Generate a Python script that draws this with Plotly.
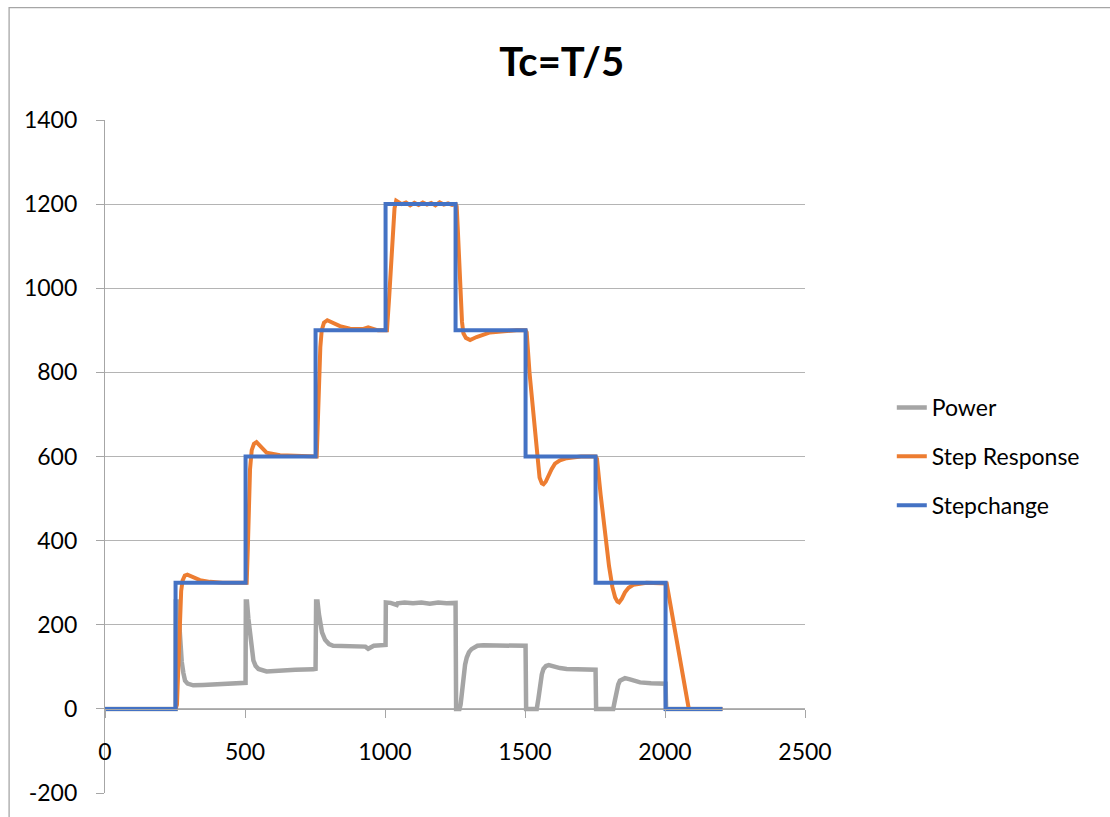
import plotly.graph_objects as go

# ---- data ----
step_x = [0, 252, 502, 752, 1002, 1252, 1502, 1752, 2002, 2205]
step_y = [0, 300, 600, 900, 1200, 900, 600, 300, 0, 0]

resp_x = [0, 252, 257, 262, 267, 272, 277, 285, 294, 310, 339, 375, 420, 502,
          506, 510, 514, 518, 524, 532, 541, 555, 577, 625, 684, 752,
          756, 760, 764, 769, 774, 782, 794, 815, 839, 875, 920, 940, 955, 975, 1002,
          1007, 1015, 1022, 1029, 1034, 1040, 1048, 1060, 1075, 1090, 1105, 1120, 1135,
          1150, 1165, 1180, 1195, 1210, 1225, 1240, 1252,
          1256, 1260, 1265, 1270, 1275, 1280, 1289, 1304, 1327, 1375, 1434, 1470, 1502,
          1506, 1516, 1530, 1542, 1552, 1560, 1566, 1574, 1583, 1595, 1607, 1625, 1649, 1700, 1752,
          1757, 1770, 1785, 1800, 1812, 1822, 1830, 1836, 1846, 1857, 1870, 1887, 1934, 2002,
          2006, 2085, 2205]
resp_y = [0, 0, 10, 110, 218, 280, 305, 317, 319, 314, 306, 302, 300, 300,
          300, 380, 480, 570, 615, 630, 634, 625, 609, 603, 601, 600,
          600, 680, 780, 860, 900, 918, 924, 917, 910, 904, 903, 907, 903, 900, 900,
          900, 980, 1060, 1140, 1190, 1208, 1205, 1200, 1204, 1197, 1203, 1198, 1204,
          1199, 1203, 1197, 1204, 1199, 1202, 1198, 1200,
          1195, 1140, 1060, 980, 920, 893, 882, 877, 884, 895, 899, 900, 900,
          895, 800, 700, 600, 550, 536, 534, 540, 554, 570, 583, 591, 596, 600, 600,
          595, 510, 415, 340, 290, 265, 255, 253, 262, 277, 288, 295, 300, 300,
          298, 0, 0]

power_x = [0, 252, 253, 257, 262, 266, 270, 274, 280, 286, 295, 315, 350, 400, 450, 502,
           503, 507, 512, 518, 524, 530, 538, 548, 577, 620, 680, 744, 752,
           754, 759, 764, 768, 775, 786, 800, 815, 850, 900, 930, 940, 948, 960, 1002,
           1003, 1020, 1042, 1045, 1070, 1100, 1130, 1160, 1190, 1220, 1252,
           1254, 1266, 1270, 1275, 1280, 1286, 1292, 1300, 1309, 1330, 1351, 1400, 1450, 1502,
           1504, 1542, 1548, 1554, 1560, 1566, 1575, 1585, 1600, 1625, 1649, 1700, 1752,
           1754, 1815, 1821, 1827, 1833, 1839, 1848, 1857, 1875, 1895, 1911, 1950, 2002,
           2004, 2205]
power_y = [0, 0, 255, 255, 235, 190, 150, 112, 85, 67, 60, 56, 57, 59, 60, 62,
           255, 255, 215, 179, 140, 115, 102, 95, 89, 91, 93, 94, 95,
           255, 255, 225, 202, 182, 164, 154, 150, 149, 150, 148, 143, 146, 150, 152,
           253, 252, 247, 251, 253, 251, 253, 250, 253, 251, 252,
           0, 0, 10, 45, 75, 105, 122, 135, 142, 150, 151, 150, 150, 150,
           0, 0, 25, 59, 82, 95, 102, 104, 101, 97, 95, 94, 93,
           0, 0, 20, 43, 58, 67, 71, 73, 70, 66, 63, 61, 60,
           0, 0]

x_ticks = [0, 500, 1000, 1500, 2000, 2500]
y_ticks = [-200, 0, 200, 400, 600, 800, 1000, 1200, 1400]
y_tick_text = ["-200", "0", "200", "400", "600", "800", "1000", "1200", "1400"]

FONT = "Lato"
AXIS_GRAY = "#A6A6A6"

fig = go.Figure()
fig.add_trace(go.Scatter(x=power_x, y=power_y, mode="lines", name="Power",
                         legendgroup="p", line=dict(color="#A5A5A5", width=4.5)))
fig.add_trace(go.Scatter(x=resp_x, y=resp_y, mode="lines", name="Step Response",
                         legendgroup="r", line=dict(color="#ED7D31", width=4)))
fig.add_trace(go.Scatter(x=step_x, y=step_y, mode="lines", name="Stepchange",
                         legendgroup="s", line=dict(color="#4472C4", width=4, shape="hv")))

fig.update_layout(
    width=1110, height=817,
    margin=dict(l=105, r=305, t=120, b=24),
    paper_bgcolor="white", plot_bgcolor="white",
    font=dict(family=FONT, size=23, color="#000000"),
    title=dict(text="<b>Tc=T/5</b>", font=dict(family=FONT, size=40, color="#000000"),
               xref="container", x=0.506, xanchor="center",
               yref="container", y=0.924, yanchor="middle"),
    showlegend=True,
    legend=dict(x=1.124, xanchor="left", y=0.5, yanchor="middle",
                traceorder="grouped", tracegroupgap=16,
                font=dict(family=FONT, size=23, color="#000000"),
                bgcolor="rgba(0,0,0,0)"),
    xaxis=dict(range=[0, 2500], tickvals=x_ticks, showgrid=False, zeroline=False,
               showline=True, linecolor=AXIS_GRAY, linewidth=1.3,
               ticks="outside", ticklen=8, tickcolor=AXIS_GRAY, tickwidth=1.3,
               anchor="free", position=0.125, ticklabelstandoff=14,
               tickfont=dict(family=FONT, size=23, color="#000000")),
    yaxis=dict(range=[-200, 1400], tickvals=y_ticks, ticktext=y_tick_text, showgrid=True,
               gridcolor="#B4B4B4", gridwidth=1.3, zeroline=False,
               showline=True, linecolor=AXIS_GRAY, linewidth=1.3,
               ticks="outside", ticklen=8, tickcolor=AXIS_GRAY, tickwidth=1.3,
               ticklabelstandoff=14,
               tickfont=dict(family=FONT, size=23, color="#000000")),
    shapes=[dict(type="rect", xref="paper", yref="paper",
                 x0=-0.137, x1=1.6, y0=-0.5, y1=1.167,
                 line=dict(color="#A6A6A6", width=1.3), layer="below")],
)

fig.write_html("out.html")
